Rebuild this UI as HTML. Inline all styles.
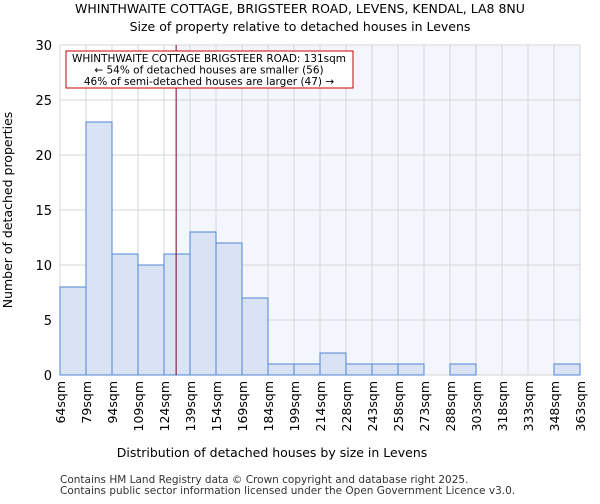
<!DOCTYPE html>
<html><head><meta charset="utf-8"><style>
body{margin:0;background:#fff;font-family:"DejaVu Sans","Liberation Sans",sans-serif}
</style></head><body>
<svg id="c" width="600" height="500" xmlns="http://www.w3.org/2000/svg" font-family="DejaVu Sans, Liberation Sans, sans-serif">
<text x="300" y="13" text-anchor="middle" font-size="12.5">WHINTHWAITE COTTAGE, BRIGSTEER ROAD, LEVENS, KENDAL, LA8 8NU</text>
<text x="300" y="31" text-anchor="middle" font-size="12.5">Size of property relative to detached houses in Levens</text>
<g id="plot"></g>
<text x="272" y="457" text-anchor="middle" font-size="12.5">Distribution of detached houses by size in Levens</text>
<text transform="translate(12,210) rotate(-90)" text-anchor="middle" font-size="12.5">Number of detached properties</text>
<text x="60" y="483" font-size="10.5" fill="#333">Contains HM Land Registry data © Crown copyright and database right 2025.</text>
<text x="60" y="494" font-size="10.5" fill="#333">Contains public sector information licensed under the Open Government Licence v3.0.</text>
</svg>
<script>
const categories=["64sqm","79sqm","94sqm","109sqm","124sqm","139sqm","154sqm","169sqm","184sqm","199sqm","214sqm","228sqm","243sqm","258sqm","273sqm","288sqm","303sqm","318sqm","333sqm","348sqm","363sqm"];
const binStarts=[64,79,94,109,124,139,154,169,184,199,214,228,243,258,273,288,303,318,333,348,363];
const counts=[8,23,11,10,11,13,12,7,1,1,2,1,1,1,0,1,0,0,0,1];
const yTicks=[0,5,10,15,20,25,30];
const propertySize=131;
const NS="http://www.w3.org/2000/svg";
const X0=60,X1=580,Y0=375,Y1=45,YMAX=30;
const bw=(X1-X0)/counts.length;
const xi=i=>X0+i*bw;
const xv=v=>{let i=0;while(i<binStarts.length-2&&binStarts[i+1]<=v)i++;return xi(i)+(v-binStarts[i])/(binStarts[i+1]-binStarts[i])*bw;};
const y=v=>Y0-(v/YMAX)*(Y0-Y1);
const g=document.getElementById('plot');
function mk(t,a){const e=document.createElementNS(NS,t);for(const k in a)e.setAttribute(k,a[k]);g.appendChild(e);return e;}
const lx=xv(propertySize);
let r=mk('rect',{x:lx,y:Y1,width:X1-lx,height:Y0-Y1,fill:'#f4f6fd'});


yTicks.forEach(t=>{let l=mk('line',{x1:X0,x2:X1,y1:y(t),y2:y(t),stroke:'#d6d6d6'});


let tx=mk('text',{x:X0-8,y:y(t)+5,'text-anchor':'end','font-size':13});tx.textContent=t;

});
categories.forEach((c,i)=>{let l=mk('line',{x1:xi(i),x2:xi(i),y1:Y1,y2:Y0,stroke:'#d6d6d6'});


let tx=mk('text',{transform:`translate(${xi(i)+5},${Y0+6}) rotate(-90)`,'text-anchor':'end','font-size':12.5});tx.textContent=c;

});
counts.forEach((v,i)=>{if(v<=0)return;let b=mk('rect',{x:xi(i),y:y(v),width:bw,height:Y0-y(v),fill:'#dae3f4',stroke:'#4f86d3','stroke-width':1});

});
let ml=mk('line',{x1:lx,x2:lx,y1:Y1,y2:Y0,stroke:'#800020','stroke-width':1});


let ab=mk('rect',{x:66,y:51,width:287,height:37,fill:'#fff',stroke:'#cc0000','stroke-width':1});


["WHINTHWAITE COTTAGE BRIGSTEER ROAD: 131sqm","← 54% of detached houses are smaller (56)","46% of semi-detached houses are larger (47) →"].forEach((s,i)=>{let t=mk('text',{x:209,y:62+i*11.5,'text-anchor':'middle','font-size':10.5,textLength:i==0?274:0});if(i>0)t.removeAttribute('textLength');t.textContent=s;

});
</script>
</body></html>
